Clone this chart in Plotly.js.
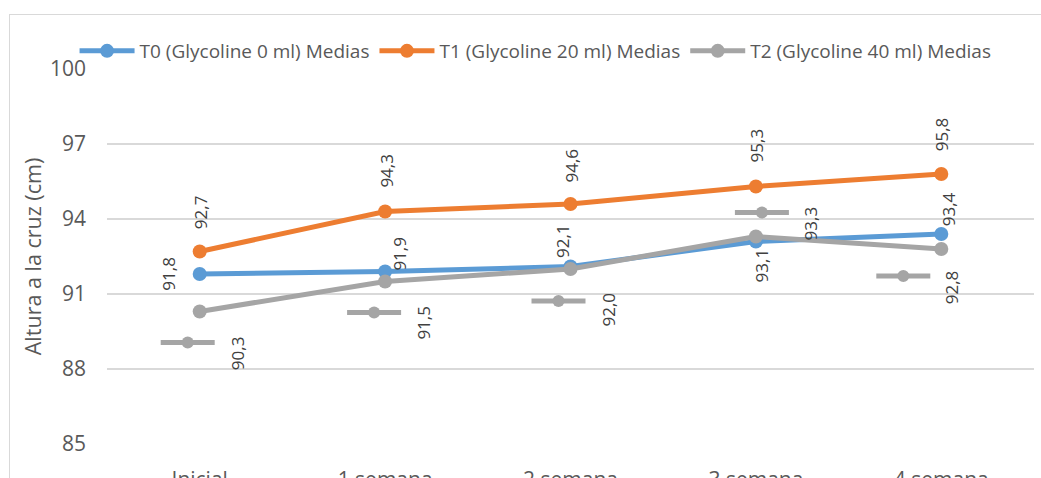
<!DOCTYPE html>
<html>
<head>
<meta charset="utf-8">
<script src="https://cdn.plot.ly/plotly-3.0.1.min.js"></script>
<style>
  html, body { margin: 0; padding: 0; background: #ffffff; overflow: hidden; }
  #wrap { position: relative; width: 1041px; height: 478px; }
  #frame { position: absolute; left: 9px; top: 14px; width: 1100px; height: 600px;
           border: 1px solid #d9d9d9; box-sizing: border-box; }
  #chart { position: absolute; left: 0; top: 0; width: 1041px; height: 478px; }
</style>
</head>
<body>
<div id="wrap">
  <div id="frame"></div>
  <div id="chart"></div>
</div>
<script>
// Weekly means of withers height (cm) per treatment
const categories = ['Inicial', '1 semana', '2 semana', '3 semana', '4 semana'];
const seriesNames = [
  'T0 (Glycoline 0 ml) Medias',
  'T1 (Glycoline 20 ml) Medias',
  'T2 (Glycoline 40 ml) Medias'
];
const t0Values = [91.8, 91.9, 92.1, 93.1, 93.4];
const t1Values = [92.7, 94.3, 94.6, 95.3, 95.8];
const t2Values = [90.3, 91.5, 92.0, 93.3, 92.8];
const yTicks = [85, 88, 91, 94, 97, 100];

// Styling: colours and data-label placement (pixel offsets from each point)
const colors = ['#5B9BD5', '#ED7D31', '#A5A5A5'];
const labelOffsets = [
  [[-32, 0], [14, -18], [-8, -25], [6, 24], [7, -25]],
  [[1, -39], [1, -41], [0, -38], [1, -41], [0, -40]],
  [[38, 42], [38, 41], [37, 41], [55, -13], [10, 38]]
];
// Legend-key offsets for the T2 data labels
const keyOffsets = [[-12, 31], [-11, 31], [-12, 32], [6, -24], [-38, 27]];

const allValues = [t0Values, t1Values, t2Values];
const fmt = v => v.toFixed(1).replace('.', ',');

const traces = allValues.map((vals, i) => ({
  type: 'scatter',
  mode: 'lines+markers',
  name: seriesNames[i],
  x: categories.map((c, k) => k),
  y: vals,
  line: { color: colors[i], width: 5 },
  marker: { color: colors[i], size: 14 },
  hoverinfo: 'skip'
}));

const annotations = [];
allValues.forEach((vals, i) => {
  vals.forEach((v, k) => {
    annotations.push({
      x: k, y: v, xref: 'x', yref: 'y',
      text: fmt(v), showarrow: false, textangle: -90,
      xshift: labelOffsets[i][k][0], yshift: -labelOffsets[i][k][1],
      font: { family: 'Open Sans', size: 17, color: '#404040' }
    });
  });
});

// Small legend keys drawn next to each T2 label
const shapes = [];
t2Values.forEach((v, k) => {
  const [dx, dy] = keyOffsets[k];
  shapes.push({
    type: 'line', xref: 'x', yref: 'y',
    xsizemode: 'pixel', ysizemode: 'pixel', xanchor: k, yanchor: v,
    x0: dx - 27, x1: dx + 27, y0: -dy, y1: -dy,
    line: { color: colors[2], width: 5 }, layer: 'above'
  });
  shapes.push({
    type: 'circle', xref: 'x', yref: 'y',
    xsizemode: 'pixel', ysizemode: 'pixel', xanchor: k, yanchor: v,
    x0: dx - 6, x1: dx + 6, y0: -dy - 6, y1: -dy + 6,
    fillcolor: colors[2], line: { width: 0 }, layer: 'above'
  });
});

const layout = {
  width: 1041, height: 478,
  margin: { l: 107, r: 7, t: 69, b: 34 },
  paper_bgcolor: 'rgba(0,0,0,0)',
  plot_bgcolor: 'rgba(0,0,0,0)',
  font: { family: 'Open Sans', color: '#595959' },
  showlegend: true,
  legend: {
    orientation: 'h', x: -0.035, xanchor: 'left', y: 1.048, yanchor: 'middle',
    font: { family: 'Open Sans', size: 19, color: '#595959' },
    itemwidth: 55, traceorder: 'normal', bgcolor: 'rgba(0,0,0,0)'
  },
  xaxis: {
    type: 'linear',
    range: [-0.5, 4.5],
    tickmode: 'array', tickvals: categories.map((c, k) => k), ticktext: categories,
    showgrid: false, zeroline: false, showline: false, ticks: '',
    ticklabelstandoff: 21,
    tickfont: { family: 'Open Sans', size: 21, color: '#595959' },
    fixedrange: true
  },
  yaxis: {
    range: [85, 100],
    tickmode: 'array', tickvals: yTicks,
    showgrid: true, gridcolor: '#d9d9d9', gridwidth: 1.5,
    zeroline: false, showline: false, ticks: '',
    ticklabelstandoff: 20,
    tickfont: { family: 'Open Sans', size: 21, color: '#595959' },
    title: { text: 'Altura a la cruz (cm)', standoff: 2,
             font: { family: 'Open Sans', size: 21.5, color: '#595959' } },
    fixedrange: true
  },
  annotations: annotations,
  shapes: shapes
};

Plotly.newPlot('chart', traces, layout, { displayModeBar: false, staticPlot: true });
</script>
</body>
</html>
